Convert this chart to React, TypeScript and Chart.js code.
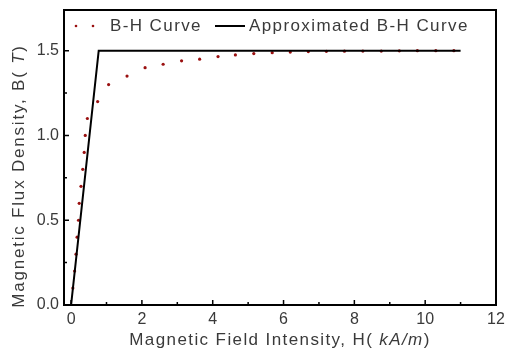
import React, { useEffect, useRef } from "react";
import { Chart, registerables } from "chart.js";

Chart.register(...registerables);

const bhH = [0.05, 0.1, 0.14, 0.17, 0.21, 0.23, 0.28, 0.33, 0.37, 0.4, 0.46, 0.75, 1.06, 1.58, 2.09, 2.6, 3.12, 3.63, 4.15, 4.64, 5.16, 5.68, 6.19, 6.7, 7.21, 7.72, 8.24, 8.76, 9.27, 9.78, 10.3, 10.81];
const bhB = [0.1, 0.2, 0.3, 0.4, 0.5, 0.6, 0.7, 0.8, 0.9, 1.0, 1.1, 1.2, 1.3, 1.35, 1.4, 1.42, 1.44, 1.45, 1.465, 1.475, 1.483, 1.488, 1.492, 1.495, 1.496, 1.497, 1.498, 1.498, 1.499, 1.5, 1.5, 1.5];
const approxH = [0, 0.78, 11];
const approxB = [0, 1.5, 1.5];

const xTicks = [0, 2, 4, 6, 8, 10, 12];
const xMinorTicks = [1, 3, 5, 7, 9, 11];
const yTicks = [0, 0.5, 1.0, 1.5];
const yMinorTicks = [0.25, 0.75, 1.25];

const seriesNames = ["B-H Curve", "Approximated B-H Curve"];
const FONT = "'Liberation Sans', Arial, sans-serif";
const TEXT = "#3a3a3a";
const DOT = "#9a1010";

function drawSegments(ctx: CanvasRenderingContext2D, parts: [string, boolean][], size: number, spacing: number) {
  const widths = parts.map(([t, it]) => {
    ctx.font = `${it ? "italic " : ""}${size}px ${FONT}`;
    (ctx as any).letterSpacing = `${spacing}px`;
    return ctx.measureText(t).width;
  });
  const total = widths.reduce((a, b) => a + b, 0);
  let x = -total / 2;
  parts.forEach(([t, it], i) => {
    ctx.font = `${it ? "italic " : ""}${size}px ${FONT}`;
    (ctx as any).letterSpacing = `${spacing}px`;
    ctx.fillText(t, x, 0);
    x += widths[i];
  });
}

const framePlugin = {
  id: "frameAndText",
  afterDraw(chart: any) {
    const { ctx, chartArea } = chart;
    const { left, right, top, bottom } = chartArea;
    const xs = chart.scales.x;
    const ys = chart.scales.y;
    ctx.save();
    ctx.strokeStyle = "#000";
    ctx.lineWidth = 2;
    ctx.strokeRect(left, top, right - left, bottom - top);
    ctx.lineWidth = 1.5;
    ctx.beginPath();
    xTicks.forEach((v) => {
      const px = xs.getPixelForValue(v);
      ctx.moveTo(px, bottom);
      ctx.lineTo(px, bottom - 5);
    });
    xMinorTicks.forEach((v) => {
      const px = xs.getPixelForValue(v);
      ctx.moveTo(px, bottom);
      ctx.lineTo(px, bottom - 3);
    });
    yTicks.forEach((v) => {
      const py = ys.getPixelForValue(v);
      ctx.moveTo(left, py);
      ctx.lineTo(left + 5, py);
    });
    yMinorTicks.forEach((v) => {
      const py = ys.getPixelForValue(v);
      ctx.moveTo(left, py);
      ctx.lineTo(left + 3, py);
    });
    ctx.stroke();

    // legend
    const ly = 26;
    ctx.fillStyle = DOT;
    [76, 93].forEach((x) => {
      ctx.beginPath();
      ctx.arc(x, ly, 1.3, 0, Math.PI * 2);
      ctx.fill();
    });
    ctx.fillStyle = TEXT;
    ctx.textBaseline = "middle";
    ctx.textAlign = "left";
    ctx.font = `17px ${FONT}`;
    (ctx as any).letterSpacing = "1.4px";
    ctx.fillText(seriesNames[0], 110, ly);
    ctx.strokeStyle = "#000";
    ctx.lineWidth = 2;
    ctx.beginPath();
    ctx.moveTo(215, ly);
    ctx.lineTo(245, ly);
    ctx.stroke();
    ctx.fillText(seriesNames[1], 249, ly);

    // axis titles
    ctx.textBaseline = "alphabetic";
    ctx.textAlign = "left";
    ctx.save();
    ctx.translate(280, 345);
    drawSegments(ctx, [["Magnetic Field Intensity, H(", false], [" kA/m", true], [")", false]], 17, 1.4);
    ctx.restore();
    ctx.save();
    ctx.translate(24, 176);
    ctx.rotate(-Math.PI / 2);
    drawSegments(ctx, [["Magnetic Flux Density, B(", false], [" T", true], [")", false]], 17, 1.8);
    ctx.restore();
    ctx.restore();
  },
};

export default function App() {
  const ref = useRef<HTMLCanvasElement>(null);
  useEffect(() => {
    const canvas = ref.current!;
    const chart = new Chart(canvas, {
      type: "scatter",
      data: {
        datasets: [
          {
            label: seriesNames[0],
            data: bhH.map((h, i) => ({ x: h, y: bhB[i] })),
            showLine: false,
            pointRadius: 1.6,
            pointHoverRadius: 1.6,
            pointBackgroundColor: DOT,
            pointBorderWidth: 0,
            borderColor: DOT,
            order: 1,
          },
          {
            label: seriesNames[1],
            data: approxH.map((h, i) => ({ x: h, y: approxB[i] })),
            showLine: true,
            borderColor: "#000",
            borderWidth: 2,
            pointRadius: 0,
            fill: false,
            order: 0,
          },
        ],
      },
      options: {
        animation: false,
        responsive: false,
        devicePixelRatio: 1,
        layout: { padding: { left: 0, right: 9, top: 10, bottom: 0 } },
        plugins: { legend: { display: false }, tooltip: { enabled: false } },
        scales: {
          x: {
            type: "linear",
            min: -0.2,
            max: 12,
            afterBuildTicks: (s: any) => {
              s.ticks = xTicks.map((v) => ({ value: v }));
            },
            afterFit: (s: any) => {
              s.height = 52;
              s.paddingLeft = 0;
              s.paddingRight = 0;
            },
            grid: { display: false, drawTicks: false },
            border: { display: false },
            ticks: {
              color: TEXT,
              font: { family: FONT, size: 16 },
              padding: 5,
              maxRotation: 0,
              autoSkip: false,
              callback: (v: any) => String(v),
            },
          },
          y: {
            type: "linear",
            min: 0,
            max: 1.74,
            afterBuildTicks: (s: any) => {
              s.ticks = yTicks.map((v) => ({ value: v }));
            },
            afterFit: (s: any) => {
              s.width = 64;
              s.paddingTop = 0;
              s.paddingBottom = 0;
            },
            grid: { display: false, drawTicks: false },
            border: { display: false },
            ticks: {
              color: TEXT,
              font: { family: FONT, size: 16 },
              padding: 5,
              autoSkip: false,
              callback: (v: any) => Number(v).toFixed(1),
            },
          },
        },
      },
      plugins: [framePlugin],
    });
    return () => chart.destroy();
  }, []);
  return (
    <div style={{ position: "absolute", left: 0, top: 0, width: 505, height: 357, background: "#fff" }}>
      <canvas ref={ref} width={505} height={357} />
    </div>
  );
}
